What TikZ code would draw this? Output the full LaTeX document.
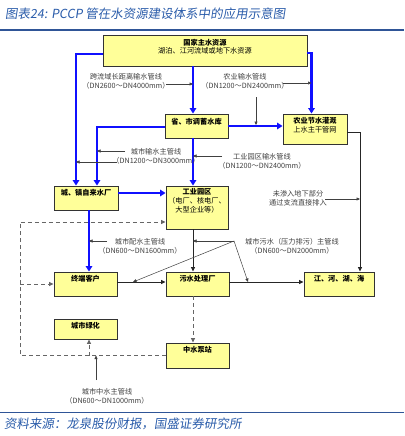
\documentclass[tikz,border=0pt]{standalone}
\usepackage{fontspec}
\setmainfont{Noto Sans CJK SC}
\newfontfamily\slantcjk[FakeSlant=0.15]{Noto Sans CJK SC}
\usetikzlibrary{arrows.meta,calc}
\definecolor{boxfill}{HTML}{FFFF99}
\definecolor{bluepipe}{HTML}{1010FF}
\definecolor{titleblue}{HTML}{2A5CAA}
\definecolor{rulecol}{HTML}{2F5597}
\definecolor{anncol}{HTML}{404040}
\begin{document}
\begin{tikzpicture}[x=1pt,y=-1pt,
  box/.style={draw=black!80, line width=0.9pt, fill=boxfill, inner sep=0pt},
  lbl/.style={font=\fontsize{7.2}{9}\selectfont, align=center, inner sep=1pt, anchor=north},
  bl/.style={draw=bluepipe, line width=2.6pt, -{Triangle[length=5.5pt,width=6.5pt]}},
  blk/.style={draw=black!85, line width=0.8pt, -{Triangle[length=4.5pt,width=4pt]}},
  dsh/.style={draw=black!60, line width=0.8pt, dash pattern=on 4pt off 3pt, -{Triangle[length=4.5pt,width=4pt]}},
  ann/.style={font=\fontsize{7.2}{9}\selectfont, align=center, inner sep=1pt, text=anncol},
  annarr/.style={draw=black!75, line width=0.5pt, -{Triangle[length=3.5pt,width=3pt]}},
  tt/.style={font=\slantcjk\fontsize{12.5}{14}\selectfont, text=titleblue, inner sep=0pt, anchor=west}
]
\useasboundingbox (0,0) rectangle (404,436);
\fill[white] (0,0) rectangle (404,436);

% title and source
\node[tt] (title) at (5,14) {图表24: PCCP 管在水资源建设体系中的应用示意图};
\draw[rulecol, line width=1.5pt] (0,30) -- (404,30);
\draw[rulecol, line width=1.5pt] (0,412.5) -- (404,412.5);
\node[tt] (src) at (4,424) {资料来源：龙泉股份财报，国盛证券研究所};

% boxes
\node[box, minimum width=204pt, minimum height=31pt] (top) at (205,50.5) {};
\node[lbl] (topT) at ([yshift=-3pt]top.north) {\textbf{国家主水资源}\\湖泊、江河流域或地下水资源};
\node[box, minimum width=63pt, minimum height=24pt] (res) at (196.5,126) {};
\node[lbl] (resT) at ([yshift=-3pt]res.north) {\textbf{省、市调蓄水库}};
\node[box, minimum width=64pt, minimum height=30pt] (agr) at (315,129) {};
\node[lbl] (agrT) at ([yshift=-2.5pt]agr.north) {\textbf{农业节水灌溉}\\上水主干管网};
\node[box, minimum width=64pt, minimum height=24pt] (plant) at (86,198) {};
\node[lbl] (plantT) at ([yshift=-3pt]plant.north) {\textbf{城、镇自来水厂}};
\node[box, minimum width=62pt, minimum height=43pt] (ind) at (197,207.5) {};
\node[lbl] (indT) at ([yshift=-2pt]ind.north) {\textbf{工业园区}\\（电厂、核电厂、\\大型企业等）};
\node[box, minimum width=63pt, minimum height=24pt] (cust) at (85.5,284) {};
\node[lbl] (custT) at ([yshift=-2.5pt]cust.north) {\textbf{终端客户}};
\node[box, minimum width=63pt, minimum height=24pt] (sew) at (197.5,284) {};
\node[lbl] (sewT) at ([yshift=-2.5pt]sew.north) {\textbf{污水处理厂}};
\node[box, minimum width=70pt, minimum height=24pt] (river) at (339,284) {};
\node[lbl] (riverT) at ([yshift=-2.5pt]river.north) {\textbf{江、河、湖、海}};
\node[box, minimum width=63pt, minimum height=20pt] (green) at (85.5,329) {};
\node[lbl] (greenT) at ([yshift=-2.5pt]green.north) {\textbf{城市绿化}};
\node[box, minimum width=63pt, minimum height=25pt] (pump) at (197.5,355.5) {};
\node[lbl] (pumpT) at ([yshift=-3pt]pump.north) {\textbf{中水泵站}};

% helper coordinates
\coordinate (cx) at ([xshift=-3.5pt]res.north);
\coordinate (ax) at ([xshift=-3.5pt]agr.north);
\coordinate (xA) at ([xshift=-10pt]plant.north);
\coordinate (xB) at ([xshift=11pt]plant.north);
\coordinate (py) at ([yshift=5pt]plant.east);
\coordinate (px) at ([xshift=3pt]plant.south);
\coordinate (rx) at ([xshift=21pt]river.north);
\coordinate (cy) at ([yshift=2pt]cust.east);
\coordinate (lx) at (20,0);
\coordinate (iy) at ([yshift=-14.5pt]ind.west);
\coordinate (gx) at ([xshift=3.5pt]green.south);

% blue main pipes
\draw[bl] ([yshift=-3.5pt]top.west) -| (xA);
\draw[bl] ([yshift=-1pt]res.west) -| (xB);
\draw[bl] (cx |- top.south) -- (cx);
\draw[bl] (res.east) -- (res.east -| agr.west);
\draw[bl] ([yshift=-2.5pt]top.east) -| (ax);
\draw[bl] (cx |- res.south) -- (cx |- ind.north);
\draw[bl] (py) -- (py -| ind.west);
\draw[bl] (px) -- (px |- cust.north);

% black flows
\draw[blk] ([yshift=-3pt]agr.east) -| (rx);
\draw[blk] (cx |- ind.south) -- (cx |- sew.north);
\draw[blk] (cy) -- (cy -| sew.west);
\draw[blk] (cy -| sew.east) -- (cy -| river.west);

% dashed reclaimed water
\draw[dsh] (cx |- sew.south) -- (cx |- pump.north);
\draw[dsh] (pump.west) -- (lx |- pump.west) |- (iy);
\draw[dsh] (lx |- cust.west) -- (cust.west);
\draw[dsh] (gx |- pump.west) -- (gx);

% annotations
\node[ann] (L1) at (126,81) {跨流域长距离输水管线\\（DN2600～DN4000mm）};
\coordinate (l1) at (166,84);
\draw[annarr] (l1) -- (l1 -| cx);

\node[ann] (L2) at (245,81) {农业输水管线\\（DN1200～DN2400mm）};
\coordinate (l2) at (283,83);
\draw[annarr] (l2) -- (l2 -| ax);
\coordinate (l2b) at (256,97);
\draw[annarr, shorten >=1pt] (l2b) -- (l2b |- res.east);

\node[ann] (L3) at (156,156) {城市输水主管线\\（DN1200～DN3000mm）};
\coordinate (l3a) at (125,151);
\draw[annarr] (l3a) -- (l3a -| xB);
\coordinate (l3b) at (117,162);
\draw[annarr] (l3b) -- (l3b -| xA);

\node[ann] (L4) at (262,161) {工业园区输水管线\\（DN1200～DN2400mm）};
\coordinate (l4) at (222,156);
\draw[annarr] (l4) -- (l4 -| cx);

\node[ann] (L5) at (298,198) {未渗入地下部分\\通过支流直接排入};
\coordinate (l5) at (325,199);
\draw[annarr] (l5) -- (l5 -| rx);

\node[ann] (L6) at (140,246) {城市配水主管线\\（DN600～DN1600mm）};
\coordinate (l6) at (107,241);
\draw[annarr] (l6) -- (l6 -| px);

\node[ann] (L7) at (292,246) {城市污水（压力排污）主管线\\（DN600～DN2000mm）};
\coordinate (hub) at (234,241);
\coordinate (h2) at (133,0);
\coordinate (h3) at (248,0);
\draw[annarr] (hub) -- (hub -| cx);
\draw[annarr] (hub) -- (h2 |- cy);
\draw[annarr] (hub) -- (h3 |- cy);

\node[ann] (L8) at (107,396) {城市中水主管线\\（DN600～DN1000mm）};
\coordinate (l8) at (96,380);
\draw[annarr] (l8) -- (l8 |- pump.west);
\end{tikzpicture}
\end{document}
